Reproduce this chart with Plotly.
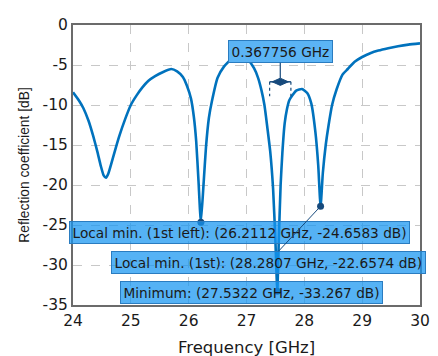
import plotly.graph_objects as go

# ---- data ----
freq_ghz = [24.00, 24.10, 24.18, 24.27, 24.35, 24.42, 24.48, 24.53, 24.57, 24.61, 24.66, 24.73,
            24.80, 24.90, 25.00, 25.10, 25.20, 25.30, 25.42, 25.55, 25.70, 25.80, 25.90, 25.97,
            26.04, 26.09, 26.13, 26.17, 26.2112, 26.26, 26.30, 26.35, 26.40, 26.50, 26.61, 26.75,
            26.90, 27.02, 27.13, 27.20, 27.26, 27.31, 27.36, 27.41, 27.46, 27.50, 27.5322, 27.56,
            27.59, 27.62, 27.66, 27.70, 27.74, 27.86, 27.96, 28.05, 28.12, 28.19, 28.24, 28.2807,
            28.32, 28.37, 28.42, 28.48, 28.56, 28.66, 28.75, 28.87, 29.00, 29.15, 29.28, 29.45,
            29.62, 29.80, 30.00]
s11_db = [-8.4, -9.4, -10.4, -12.0, -13.9, -15.8, -17.6, -18.8, -19.1, -18.6, -17.4, -15.6,
          -13.9, -11.8, -10.0, -8.8, -7.8, -7.0, -6.4, -5.9, -5.5, -5.8, -6.5, -7.6,
          -9.2, -11.5, -14.5, -19.5, -24.6583, -19.6, -15.2, -11.6, -9.6, -6.6, -5.2, -4.2,
          -3.9, -4.3, -5.4, -6.6, -8.2, -10.0, -12.8, -15.8, -20.5, -27.0, -33.267, -26.5,
          -20.0, -16.0, -12.3, -10.5, -9.4, -8.2, -8.0, -8.5, -9.8, -13.3, -17.5, -22.6574,
          -18.5, -15.0, -12.5, -10.0, -8.0, -6.2, -5.5, -4.6, -4.0, -3.5, -3.2, -2.9,
          -2.65, -2.45, -2.3]

marker_freq = [26.2112, 28.2807, 27.5322]
marker_db = [-24.6583, -22.6574, -33.267]
marker_text = ["Local min. (1st left): (26.2112 GHz, -24.6583 dB)",
               "Local min. (1st): (28.2807 GHz, -22.6574 dB)",
               "Minimum: (27.5322 GHz, -33.267 dB)"]
# label box centres (data coords)
label_x = [26.885, 27.375, 27.079]
label_y = [-25.97, -29.66, -33.45]

delta_start_ghz = 27.400
delta_width_ghz = 0.367756
delta_label = "0.367756 GHz"

x_ticks = [24, 25, 26, 27, 28, 29, 30]
y_ticks = [0, -5, -10, -15, -20, -25, -30, -35]
x_title = "Frequency [GHz]"
y_title = "Reflection coefficient [dB]"

LINE = "#0072BD"
BOX = "rgba(19,148,241,0.72)"
BORDER = "#2a7cc0"
NAVY = "#174a7c"
BOXFONT = dict(family="DejaVu Sans", size=13.7, color="#1a1a1a")

fig = go.Figure()
fig.add_trace(go.Scatter(x=freq_ghz, y=s11_db, mode="lines",
                         line=dict(color=LINE, width=2.6, shape="spline", smoothing=0.5),
                         hoverinfo="skip", showlegend=False))
fig.add_trace(go.Scatter(x=marker_freq, y=marker_db, mode="markers",
                         marker=dict(color=NAVY, size=7), showlegend=False, hoverinfo="skip"))

for fx, fy, t, lx, ly in zip(marker_freq, marker_db, marker_text, label_x, label_y):
    fig.add_annotation(x=fx, y=fy, ax=lx, ay=ly, axref="x", ayref="y", xref="x", yref="y",
                       text=t, showarrow=True, arrowhead=0, arrowwidth=1, arrowcolor=NAVY,
                       bgcolor=BOX, bordercolor=BORDER, borderwidth=1, borderpad=2.5,
                       font=BOXFONT)

# delta marker
d_a = delta_start_ghz
d_b = delta_start_ghz + delta_width_ghz
d_c = (d_a + d_b) / 2
arrow_y = -7.1
for fx in (d_a, d_b):
    fig.add_shape(type="line", x0=fx, x1=fx, y0=arrow_y, y1=-8.9, xref="x", yref="y",
                  line=dict(color=NAVY, width=1.2, dash="dot"))
fig.add_shape(type="line", x0=d_a, x1=d_b, y0=arrow_y, y1=arrow_y, xref="x", yref="y",
              line=dict(color=NAVY, width=1.5))
ins = delta_width_ghz * 0.12
fig.add_shape(type="path", xref="x", yref="y",
              path=(f"M {d_a + ins} {arrow_y} L {d_c} {arrow_y + 0.45} "
                    f"L {d_b - ins} {arrow_y} L {d_c} {arrow_y - 0.45} Z"),
              fillcolor=NAVY, line=dict(color=NAVY, width=1))
fig.add_annotation(x=d_c, y=arrow_y + 0.45, ax=d_c, ay=-3.35, axref="x", ayref="y",
                   xref="x", yref="y", text=delta_label, showarrow=True, arrowhead=0,
                   arrowwidth=1.2, arrowcolor=NAVY,
                   bgcolor="#5bb4f5", bordercolor=BORDER, borderwidth=1, borderpad=2.5,
                   font=BOXFONT)

# x-axis title placed as paper annotation so it can sit low in the margin
fig.add_annotation(x=0.5, y=0, xref="paper", yref="paper", yanchor="middle",
                   yshift=-42, text=x_title, showarrow=False,
                   font=dict(family="DejaVu Sans", size=16.5, color="#1a1a1a"))

axis_common = dict(showgrid=True, gridcolor="#c8c8c8", griddash="dash", gridwidth=1.2,
                   showline=True, linecolor="#6b6b6b", linewidth=2, mirror=True,
                   zeroline=False, ticks="",
                   tickfont=dict(family="DejaVu Sans", size=15.5, color="#1a1a1a"))
fig.update_xaxes(range=[24, 30], tickvals=x_ticks, ticktext=[str(v) for v in x_ticks],
                 **axis_common)
fig.update_yaxes(range=[-35, 0], tickvals=y_ticks, ticktext=[str(v) for v in y_ticks],
                 title_text=y_title, title_standoff=10,
                 title_font=dict(family="Liberation Sans", size=13.8, color="#1a1a1a"),
                 **axis_common)

# page body has an 8px margin, so the figure is sized to fill the rest of the window
fig.update_layout(width=430, height=348, margin=dict(l=65, r=9, t=8, b=51),
                  paper_bgcolor="white", plot_bgcolor="white", showlegend=False)
fig.write_html("out.html")
